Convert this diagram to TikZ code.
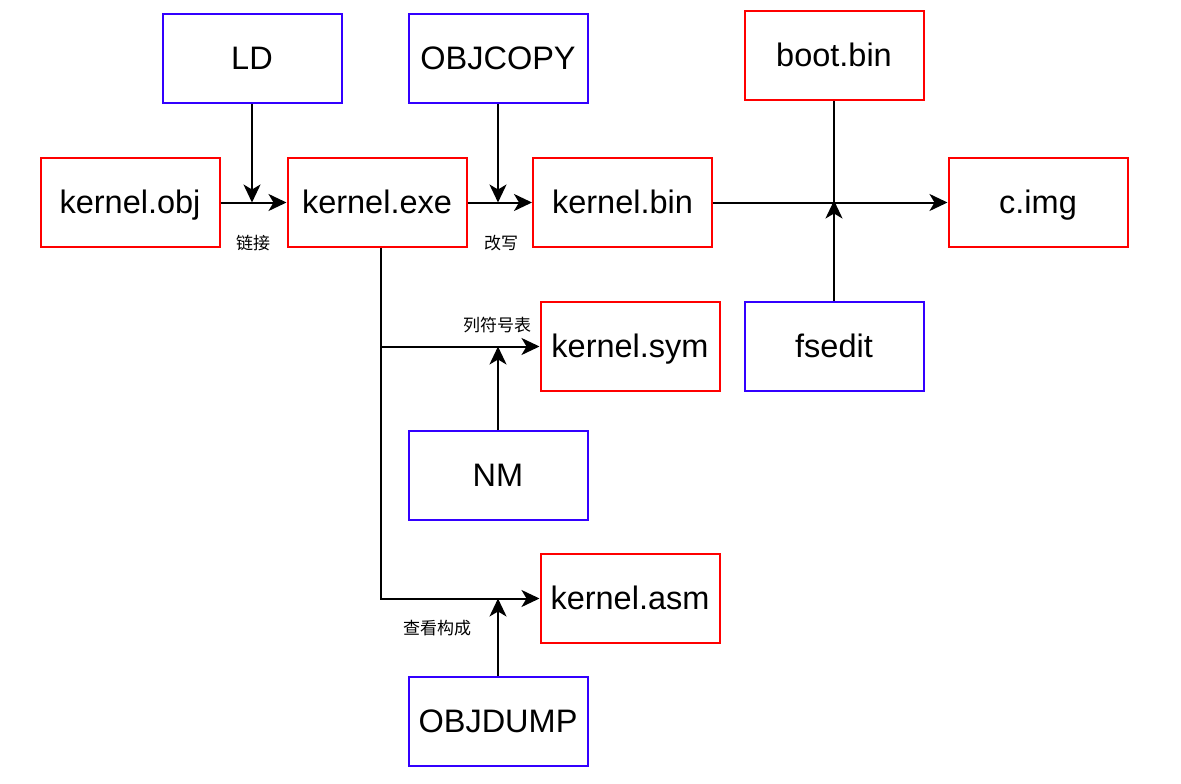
\documentclass[tikz,border=0pt]{standalone}
\usepackage{fontspec}
\setmainfont{Liberation Sans}
\newfontfamily\cjk{Noto Sans CJK SC}
\usetikzlibrary{arrows.meta}
\definecolor{boxred}{HTML}{FF0000}
\definecolor{boxblue}{HTML}{3300FF}
\begin{document}
\begin{tikzpicture}[x=1pt,y=-1pt,
  filebox/.style={draw=boxred,line width=2pt,minimum width=179pt,minimum height=89pt,inner sep=0pt,text height=28pt,text depth=6pt,font=\fontsize{32.5}{38}\selectfont},
  toolbox/.style={filebox,draw=boxblue},
  conn/.style={line width=2pt,-{Stealth[length=18pt,width=17pt,inset=5pt]}},
  plain/.style={line width=2pt},
  lbl/.style={font=\cjk\fontsize{17}{20}\selectfont,inner sep=0pt}]
\useasboundingbox (0,0) rectangle (1181,784);
\node[toolbox] (ld) at (252,58.5) {LD};
\node[toolbox] (objcopy) at (498,58.5) {OBJCOPY};
\node[filebox] (boot) at (834,55.5) {boot.bin};
\node[filebox] (kobj) at (130,202.5) {kernel.obj};
\node[filebox] (kexe) at (377,202.5) {kernel.exe};
\node[filebox] (kbin) at (622.5,202.5) {kernel.bin};
\node[filebox] (cimg) at (1038,202.5) {c.img};
\node[filebox] (ksym) at (630,346.5) {kernel.sym};
\node[toolbox] (fsedit) at (834,346.5) {fsedit};
\node[toolbox] (nm) at (498,475.5) {NM};
\node[filebox] (kasm) at (630,598.5) {kernel.asm};
\node[toolbox] (objdump) at (498,721.5) {OBJDUMP};

\draw[conn] (kobj.east) -- (kexe.west);
\draw[conn] (ld.south) -- (ld.south |- kobj.east);
\draw[conn] (kexe.east) -- (kbin.west);
\draw[conn] (objcopy.south) -- (objcopy.south |- kexe.east);
\draw[conn] (kbin.east) -- (cimg.west);
\draw[plain] (boot.south) -- (boot.south |- kbin.east);
\draw[conn] (fsedit.north) -- ([yshift=2pt]fsedit.north |- kbin.east);
\coordinate (tap) at ([xshift=4pt]kexe.south);
\draw[conn] (tap) |- (ksym.west);
\draw[conn] (tap) |- (kasm.west);
\draw[conn] (nm.north) -- (nm.north |- ksym.west);
\draw[conn] (objdump.north) -- (objdump.north |- kasm.west);

\node[lbl] (l1) at (253,243) {链接};
\node[lbl] (l2) at (501,243) {改写};
\node[lbl] (l3) at (497,325) {列符号表};
\node[lbl] (l4) at (437,628) {查看构成};
\end{tikzpicture}
\end{document}
